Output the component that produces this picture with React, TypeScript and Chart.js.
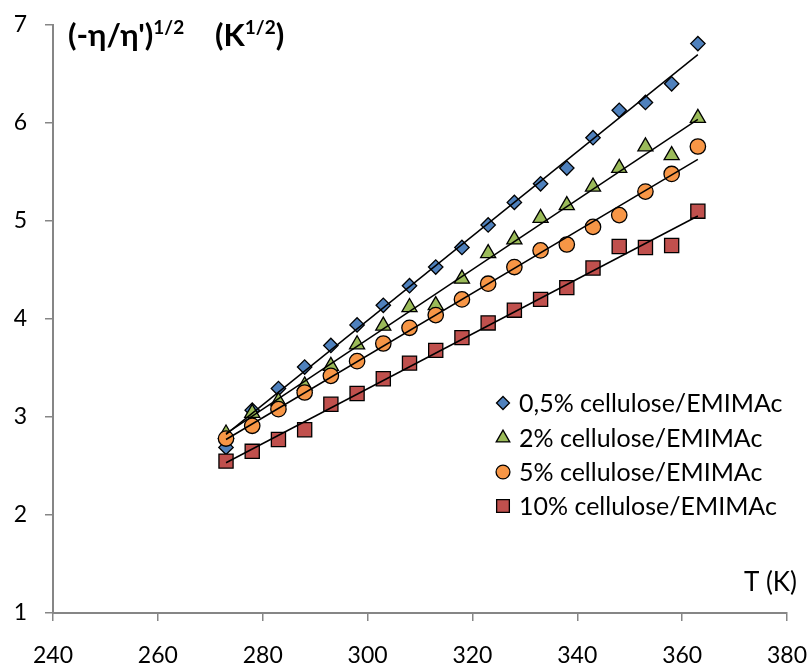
import { useEffect, useRef } from "react";
import { Chart, registerables } from "chart.js";
import { drawPoint } from "chart.js/helpers";

Chart.register(...registerables);

// Temperature (K)
const temperatures = [273, 278, 283, 288, 293, 298, 303, 308, 313, 318, 323, 328, 333, 338, 343, 348, 353, 358, 363];

// (-η/η')^1/2 in K^1/2 for each cellulose concentration
const cellulose05 = [2.69, 3.07, 3.29, 3.51, 3.73, 3.94, 4.14, 4.34, 4.53, 4.73, 4.96, 5.19, 5.38, 5.54, 5.85, 6.13, 6.21, 6.4, 6.81];
const cellulose2 = [2.83, 3.04, 3.16, 3.32, 3.52, 3.74, 3.93, 4.12, 4.14, 4.41, 4.67, 4.81, 5.03, 5.16, 5.35, 5.54, 5.76, 5.67, 6.05];
const cellulose5 = [2.78, 2.91, 3.08, 3.25, 3.42, 3.57, 3.75, 3.91, 4.04, 4.2, 4.36, 4.53, 4.7, 4.76, 4.94, 5.06, 5.3, 5.48, 5.76];
const cellulose10 = [2.55, 2.65, 2.77, 2.87, 3.13, 3.24, 3.39, 3.55, 3.68, 3.81, 3.96, 4.09, 4.2, 4.32, 4.52, 4.74, 4.73, 4.75, 5.1];

const seriesLabels = [
  "0,5% cellulose/EMIMAc",
  "2% cellulose/EMIMAc",
  "5% cellulose/EMIMAc",
  "10% cellulose/EMIMAc",
];
const seriesColors = ["#4F81BD", "#9BBB59", "#F79646", "#C0504D"];
const seriesMarkers = ["rectRot", "triangle", "circle", "rect"];
const seriesRadius = [7.2, 8.7, 7.7, 10];

const xAxisRange = { min: 240, max: 380, step: 20 };
const yAxisRange = { min: 1, max: 7, step: 1 };

const FONT = 'Lato, "Noto Sans", sans-serif';
const AXIS_GREY = "#868686";

// Least-squares linear trendline over the measured range
function trendline(xs: number[], ys: number[]) {
  const n = xs.length;
  const mx = xs.reduce((a, b) => a + b, 0) / n;
  const my = ys.reduce((a, b) => a + b, 0) / n;
  let sxy = 0;
  let sxx = 0;
  for (let i = 0; i < n; i++) {
    sxy += (xs[i] - mx) * (ys[i] - my);
    sxx += (xs[i] - mx) * (xs[i] - mx);
  }
  const slope = sxy / sxx;
  const icpt = my - slope * mx;
  const x0 = xs[0];
  const x1 = xs[n - 1];
  return [
    { x: x0, y: icpt + slope * x0 },
    { x: x1, y: icpt + slope * x1 },
  ];
}

// Axis captions and the inset legend
const captionsPlugin = {
  id: "captions",
  afterDraw(chart: any) {
    const ctx = chart.ctx as CanvasRenderingContext2D;
    ctx.save();
    ctx.fillStyle = "#000";
    ctx.textBaseline = "middle";
    ctx.textAlign = "left";

    // y-axis caption: (-η/η')^1/2   (K^1/2)
    const drawWithSup = (parts: [string, boolean][], x: number, y: number) => {
      let cx = x;
      for (const [txt, sup] of parts) {
        ctx.font = sup ? `bold 19px ${FONT}` : `bold 31px ${FONT}`;
        ctx.fillText(txt, cx, sup ? y - 8 : y);
        cx += ctx.measureText(txt).width;
      }
    };
    drawWithSup([["(-η/η')", false], ["1/2", true]], 68, 36);
    drawWithSup([["(K", false], ["1/2", true], [")", false]], 215, 36);

    // x-axis caption
    ctx.font = `26px ${FONT}`;
    ctx.textAlign = "right";
    ctx.fillText("T (K)", 797, 583);

    // legend
    const rows = [403, 438, 472, 506];
    ctx.textAlign = "left";
    seriesLabels.forEach((label, i) => {
      ctx.fillStyle = seriesColors[i];
      ctx.strokeStyle = "#000";
      ctx.lineWidth = 1.3;
      drawPoint(ctx, { pointStyle: seriesMarkers[i], radius: seriesRadius[i] * 0.9, borderWidth: 1.3, rotation: 0 } as any, 503, rows[i]);
      ctx.fillStyle = "#000";
      ctx.font = `25px ${FONT}`;
      ctx.fillText(label, 519, rows[i] + 1);
    });
    ctx.restore();
  },
};

export default function App() {
  const canvasRef = useRef<HTMLCanvasElement | null>(null);

  useEffect(() => {
    if (!canvasRef.current) return;
    const seriesData = [cellulose05, cellulose2, cellulose5, cellulose10];

    const trendSets = seriesData.map((ys) => ({
      label: "",
      data: trendline(temperatures, ys),
      showLine: true,
      borderColor: "#000",
      borderWidth: 1.5,
      pointRadius: 0,
      pointHoverRadius: 0,
      order: 0,
    }));

    const pointSets = seriesData.map((ys, i) => ({
      label: seriesLabels[i],
      data: temperatures.map((t, k) => ({ x: t, y: ys[k] })),
      showLine: false,
      pointStyle: seriesMarkers[i],
      pointRadius: seriesRadius[i],
      pointBackgroundColor: seriesColors[i],
      pointBorderColor: "#000",
      pointBorderWidth: 1.3,
      order: 4 - i,
    }));

    const chart = new Chart(canvasRef.current, {
      type: "scatter",
      data: { datasets: [...trendSets, ...pointSets] as any },
      options: {
        animation: false,
        responsive: false,
        layout: { padding: { top: 25, right: 24, left: 0, bottom: 0 } },
        plugins: {
          legend: { display: false },
          tooltip: { enabled: false },
          title: { display: false },
        },
        scales: {
          x: {
            type: "linear",
            min: xAxisRange.min,
            max: xAxisRange.max,
            afterFit: (scale: any) => {
              scale.height = 57;
              scale.paddingLeft = 0;
              scale.paddingRight = 0;
            },
            ticks: {
              stepSize: xAxisRange.step,
              color: "#000",
              font: { family: FONT, size: 23 },
              padding: 21,
              maxRotation: 0,
            },
            grid: {
              drawOnChartArea: false,
              drawTicks: true,
              tickLength: 8,
              color: AXIS_GREY,
              lineWidth: 1.5,
            },
            border: { display: true, color: AXIS_GREY, width: 2 },
          },
          y: {
            type: "linear",
            min: yAxisRange.min,
            max: yAxisRange.max,
            afterFit: (scale: any) => {
              scale.width = 53;
              scale.paddingTop = 0;
              scale.paddingBottom = 0;
            },
            ticks: {
              stepSize: yAxisRange.step,
              color: "#000",
              font: { family: FONT, size: 23 },
              padding: 18,
            },
            grid: {
              drawOnChartArea: false,
              drawTicks: true,
              tickLength: 8,
              color: AXIS_GREY,
              lineWidth: 1.5,
            },
            border: { display: true, color: AXIS_GREY, width: 2 },
          },
        },
      },
      plugins: [captionsPlugin],
    });

    return () => chart.destroy();
  }, []);

  return (
    <div style={{ position: "fixed", left: 0, top: 0, width: 811, height: 670, background: "#fff" }}>
      <canvas ref={canvasRef} width={811} height={670} style={{ display: "block" }} />
    </div>
  );
}
